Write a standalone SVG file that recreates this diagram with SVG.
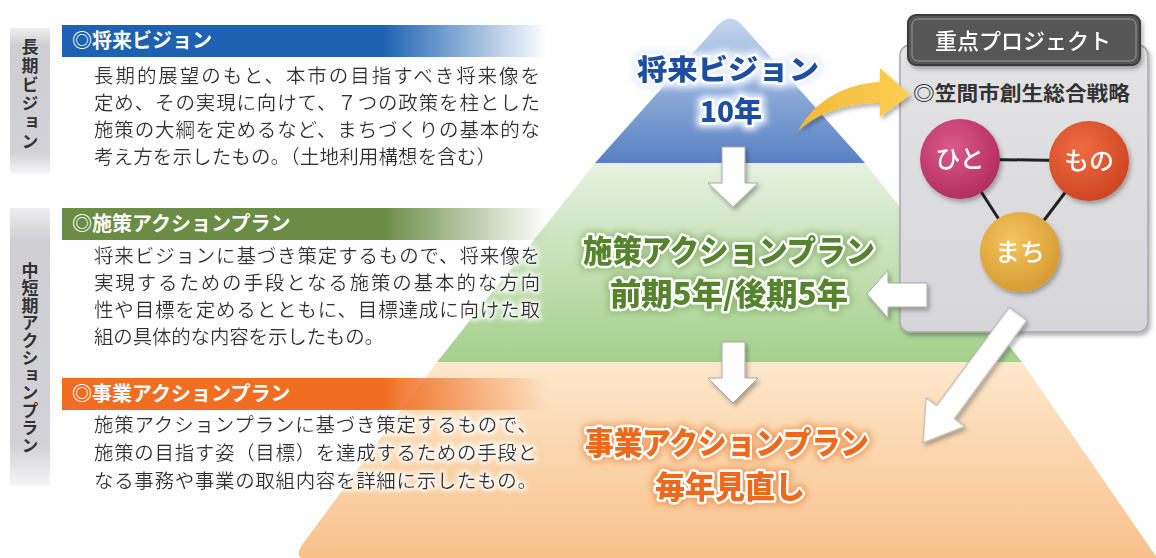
<svg xmlns="http://www.w3.org/2000/svg" width="1156" height="558" viewBox="0 0 1156 558">
<defs>
<style>
.body{font-family:"Noto Sans CJK JP","Noto Sans",sans-serif;font-size:19.5px;fill:#333;}
.hdr{font-family:"Noto Sans CJK JP","Noto Sans",sans-serif;font-size:20px;font-weight:700;fill:#fff;}
.vlab{font-family:"Noto Sans CJK JP","Noto Sans",sans-serif;font-size:17px;font-weight:700;fill:#333;writing-mode:vertical-rl;text-orientation:upright;}
.big{font-family:"Noto Sans CJK JP","Noto Sans",sans-serif;font-weight:900;text-anchor:middle;stroke:#fff;stroke-width:5;stroke-linejoin:round;paint-order:stroke;}
.warrow{fill:#fff;stroke:#a8a8a8;stroke-width:1;}
.circ{font-family:"Noto Sans CJK JP","Noto Sans",sans-serif;font-size:25px;font-weight:500;fill:#fff;text-anchor:middle;}
</style>
<linearGradient id="gBlue" x1="0" y1="0" x2="0" y2="1">
<stop offset="0" stop-color="#c2d6ee"/><stop offset="1" stop-color="#5880c2"/>
</linearGradient>
<linearGradient id="gGreen" x1="0" y1="0" x2="0" y2="1">
<stop offset="0" stop-color="#e6f2e0"/><stop offset="1" stop-color="#a4d08c"/>
</linearGradient>
<linearGradient id="gOrange" x1="0" y1="0" x2="0" y2="1">
<stop offset="0" stop-color="#fde8cc"/><stop offset="1" stop-color="#f8c08a"/>
</linearGradient>
<linearGradient id="hBlue" x1="0" y1="0" x2="1" y2="0">
<stop offset="0" stop-color="#1c62b0"/><stop offset="0.66" stop-color="#1c62b0"/><stop offset="1" stop-color="#1c62b0" stop-opacity="0"/>
</linearGradient>
<linearGradient id="hGreen" x1="0" y1="0" x2="1" y2="0">
<stop offset="0" stop-color="#6a8c44"/><stop offset="0.66" stop-color="#6a8c44"/><stop offset="1" stop-color="#6a8c44" stop-opacity="0"/>
</linearGradient>
<linearGradient id="hOrange" x1="0" y1="0" x2="1" y2="0">
<stop offset="0" stop-color="#f06e22"/><stop offset="0.66" stop-color="#f06e22"/><stop offset="1" stop-color="#f06e22" stop-opacity="0"/>
</linearGradient>
<linearGradient id="gLabel" x1="0" y1="0" x2="0" y2="1">
<stop offset="0" stop-color="#eeeef0"/><stop offset="0.12" stop-color="#cfcfd3"/><stop offset="0.85" stop-color="#d2d2d6"/><stop offset="1" stop-color="#f6f6f6"/>
</linearGradient>
<linearGradient id="gPanel" x1="0" y1="0" x2="0" y2="1">
<stop offset="0" stop-color="#e4e4e6"/><stop offset="1" stop-color="#d6d6da"/>
</linearGradient>
<linearGradient id="gYellow" x1="0" y1="0" x2="1" y2="0">
<stop offset="0" stop-color="#f3b83a"/><stop offset="1" stop-color="#fccf52"/>
</linearGradient>
<radialGradient id="cHito" cx="0.4" cy="0.35" r="0.7">
<stop offset="0" stop-color="#dc5a8a"/><stop offset="1" stop-color="#b02c5c"/>
</radialGradient>
<radialGradient id="cMono" cx="0.4" cy="0.35" r="0.7">
<stop offset="0" stop-color="#f06c42"/><stop offset="1" stop-color="#cc4420"/>
</radialGradient>
<radialGradient id="cMachi" cx="0.4" cy="0.35" r="0.7">
<stop offset="0" stop-color="#f4c460"/><stop offset="1" stop-color="#d69a30"/>
</radialGradient>
<filter id="shadow" x="-20%" y="-20%" width="140%" height="140%">
<feGaussianBlur in="SourceAlpha" stdDeviation="2"/>
<feOffset dx="2" dy="3" result="b"/>
<feFlood flood-color="#000" flood-opacity="0.3"/>
<feComposite in2="b" operator="in"/>
<feMerge><feMergeNode/><feMergeNode in="SourceGraphic"/></feMerge>
</filter>
<filter id="halo" x="-5%" y="-30%" width="110%" height="160%">
<feMorphology in="SourceAlpha" operator="dilate" radius="2" result="d"/>
<feGaussianBlur in="d" stdDeviation="2" result="b"/>
<feFlood flood-color="#fff" flood-opacity="0.9"/>
<feComposite in2="b" operator="in"/>
<feMerge><feMergeNode/><feMergeNode in="SourceGraphic"/></feMerge>
</filter>
<filter id="glowB" x="-10%" y="-30%" width="120%" height="160%">
<feMorphology in="SourceAlpha" operator="dilate" radius="3" result="d"/>
<feGaussianBlur in="d" stdDeviation="3" result="b"/>
<feFlood flood-color="#e8f0ff" flood-opacity="1"/>
<feComposite in2="b" operator="in"/>
<feMerge><feMergeNode/><feMergeNode in="SourceGraphic"/></feMerge>
</filter>
<filter id="glowG" x="-10%" y="-30%" width="120%" height="160%">
<feMorphology in="SourceAlpha" operator="dilate" radius="2" result="d"/>
<feGaussianBlur in="d" stdDeviation="3" result="b"/>
<feFlood flood-color="#7aa85a" flood-opacity="0.6"/>
<feComposite in2="b" operator="in"/>
<feMerge><feMergeNode/><feMergeNode in="SourceGraphic"/></feMerge>
</filter>
<filter id="glowO" x="-10%" y="-30%" width="120%" height="160%">
<feMorphology in="SourceAlpha" operator="dilate" radius="2" result="d"/>
<feGaussianBlur in="d" stdDeviation="3" result="b"/>
<feFlood flood-color="#f08a40" flood-opacity="0.7"/>
<feComposite in2="b" operator="in"/>
<feMerge><feMergeNode/><feMergeNode in="SourceGraphic"/></feMerge>
</filter>
</defs>
<rect width="1156" height="558" fill="#fff"/>

<!-- pyramid -->
<g id="pyramid">
<path d="M437,362 L1022,362 L1160,562 L312,562 Q292,560 302,545 Z" fill="url(#gOrange)"/>
<path d="M595,163 L865,163 L1022,362 L437,362 Z" fill="url(#gGreen)"/>
<path d="M595,163 L718,25 Q730,12 742,25 L865,163 Z" fill="url(#gBlue)"/>
</g>

<!-- left labels -->
<g id="label-long">
<rect x="10" y="28" width="40" height="146" fill="url(#gLabel)"/>
<text class="vlab" x="30" y="38" letter-spacing="2">長期ビジョン</text>
</g>
<g id="label-mid">
<rect x="10" y="208" width="40" height="278" fill="url(#gLabel)"/>
<text class="vlab" x="30" y="262" letter-spacing="0.5">中短期アクションプラン</text>
</g>

<g id="block-vision">
<rect x="62" y="25" width="485" height="32" fill="url(#hBlue)"/>
<text class="hdr" x="72" y="48">◎将来ビジョン</text>
<g class="body" filter="url(#halo)">
<text x="94" y="83" textLength="446" lengthAdjust="spacing">長期的展望のもと、本市の目指すべき将来像を</text>
<text x="94" y="110" textLength="446" lengthAdjust="spacing">定め、その実現に向けて、７つの政策を柱とした</text>
<text x="94" y="137" textLength="446" lengthAdjust="spacing">施策の大綱を定めるなど、まちづくりの基本的な</text>
<text x="94" y="164" textLength="402" lengthAdjust="spacing">考え方を示したもの。（土地利用構想を含む）</text>
</g>
</g>

<g id="block-policy">
<rect x="62" y="208" width="485" height="32" fill="url(#hGreen)"/>
<text class="hdr" x="72" y="231">◎施策アクションプラン</text>
<g class="body" filter="url(#halo)">
<text x="94" y="263" textLength="446" lengthAdjust="spacing">将来ビジョンに基づき策定するもので、将来像を</text>
<text x="94" y="290" textLength="446" lengthAdjust="spacing">実現するための手段となる施策の基本的な方向</text>
<text x="94" y="317" textLength="446" lengthAdjust="spacing">性や目標を定めるとともに、目標達成に向けた取</text>
<text x="94" y="344" textLength="290" lengthAdjust="spacing">組の具体的な内容を示したもの。</text>
</g>
</g>

<g id="block-project">
<rect x="62" y="378" width="485" height="32" fill="url(#hOrange)"/>
<text class="hdr" x="72" y="401">◎事業アクションプラン</text>
<g class="body" filter="url(#halo)">
<text x="94" y="432" textLength="443" lengthAdjust="spacing">施策アクションプランに基づき策定するもので、</text>
<text x="94" y="460" textLength="443" lengthAdjust="spacing">施策の目指す姿（目標）を達成するための手段と</text>
<text x="94" y="488" textLength="443" lengthAdjust="spacing">なる事務や事業の取組内容を詳細に示したもの。</text>
</g>
</g>

<!-- pyramid labels -->
<g id="tier-vision" filter="url(#glowB)">
<text class="big" x="728" y="80" font-size="28" fill="#1e4fa2" textLength="182" lengthAdjust="spacingAndGlyphs">将来ビジョン</text>
<text class="big" x="731" y="122" font-size="28" fill="#1e4fa2" textLength="62" lengthAdjust="spacingAndGlyphs">10年</text>
</g>
<g id="tier-policy" filter="url(#glowG)">
<text class="big" x="729" y="262" font-size="31" fill="#55832f" textLength="292" lengthAdjust="spacingAndGlyphs">施策アクションプラン</text>
<text class="big" x="729" y="305" font-size="31" fill="#55832f" textLength="238" lengthAdjust="spacingAndGlyphs">前期5年/後期5年</text>
</g>
<g id="tier-project" filter="url(#glowO)">
<text class="big" x="727" y="454" font-size="31" fill="#f0681a" textLength="284" lengthAdjust="spacingAndGlyphs">事業アクションプラン</text>
<text class="big" x="730" y="498" font-size="31" fill="#f0681a" textLength="150" lengthAdjust="spacingAndGlyphs">毎年見直し</text>
</g>

<!-- key project panel -->
<g id="panel" filter="url(#shadow)">
<rect x="900" y="45" width="248" height="287" rx="10" fill="url(#gPanel)" stroke="#a8a8aa" stroke-width="1.5"/>
</g>
<g id="panel-header" filter="url(#shadow)">
<rect x="908" y="15" width="232" height="50" rx="8" fill="#565656" stroke="#3a3a3a" stroke-width="2"/>
<rect x="912" y="19" width="224" height="42" rx="6" fill="none" stroke="#9a9a9a" stroke-width="1"/>
<text x="1023" y="49" font-family="'Noto Sans CJK JP','Noto Sans',sans-serif" font-size="22" font-weight="500" fill="#fff" text-anchor="middle" textLength="176" lengthAdjust="spacingAndGlyphs">重点プロジェクト</text>
</g>
<g id="panel-title">
<text x="913" y="101" font-family="'Noto Sans CJK JP','Noto Sans',sans-serif" font-size="20" font-weight="700" fill="#333" textLength="217" lengthAdjust="spacingAndGlyphs">◎笠間市創生総合戦略</text>
</g>

<!-- connectors -->
<g id="connectors">
<g stroke="#222" stroke-width="3">
<line x1="960" y1="159" x2="1089" y2="161"/>
<line x1="960" y1="159" x2="1020" y2="252"/>
<line x1="1089" y1="161" x2="1020" y2="252"/>
</g>
<g filter="url(#shadow)">
<path d="M798,131 C815,100 845,84 880,82 L880,68 L910,95 L880,117 L880,103 C850,103 822,110 798,131 Z" fill="url(#gYellow)"/>
<polygon class="warrow" points="722,147 745,147 745,183 758,183 733,207 708,183 722,183"/>
<polygon class="warrow" points="722,342 745,342 745,378 758,378 733,403 708,378 722,378"/>
<polygon class="warrow" points="927,283 888,283 888,270 867,294 888,318 888,307 927,307"/>
<polygon class="warrow" points="-11,0 11,0 11,122 24,122 0,160 -24,122 -11,122" transform="translate(1018,314) rotate(36.4)"/>
</g>
</g>

<g id="node-hito" filter="url(#shadow)">
<circle cx="960" cy="159" r="40" fill="url(#cHito)"/>
<text class="circ" x="960" y="168">ひと</text>
</g>
<g id="node-mono" filter="url(#shadow)">
<circle cx="1089" cy="161" r="40" fill="url(#cMono)"/>
<text class="circ" x="1089" y="170">もの</text>
</g>
<g id="node-machi" filter="url(#shadow)">
<circle cx="1020" cy="252" r="40" fill="url(#cMachi)"/>
<text class="circ" x="1020" y="261">まち</text>
</g>
</svg>
